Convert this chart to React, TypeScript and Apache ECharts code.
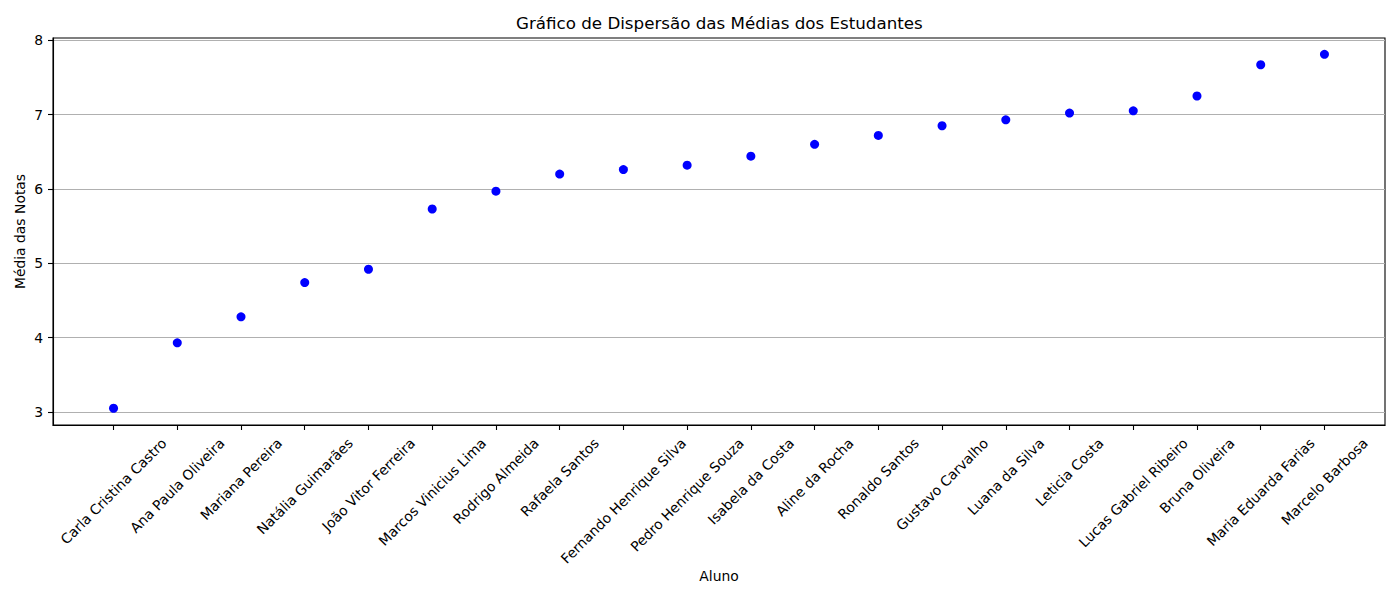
import React, { useEffect, useRef } from "react";
import * as echarts from "echarts";

const alunos = [
  "Carla Cristina Castro",
  "Ana Paula Oliveira",
  "Mariana Pereira",
  "Natália Guimarães",
  "João Vitor Ferreira",
  "Marcos Vinicius Lima",
  "Rodrigo Almeida",
  "Rafaela Santos",
  "Fernando Henrique Silva",
  "Pedro Henrique Souza",
  "Isabela da Costa",
  "Aline da Rocha",
  "Ronaldo Santos",
  "Gustavo Carvalho",
  "Luana da Silva",
  "Leticia Costa",
  "Lucas Gabriel Ribeiro",
  "Bruna Oliveira",
  "Maria Eduarda Farias",
  "Marcelo Barbosa",
];

const medias = [
  3.05, 3.93, 4.28, 4.74, 4.92, 5.73, 5.97, 6.2, 6.26, 6.32, 6.44, 6.6, 6.72,
  6.85, 6.93, 7.02, 7.05, 7.25, 7.67, 7.81,
];

const yTicks = [3, 4, 5, 6, 7, 8];

const TITLE = "Gráfico de Dispersão das Médias dos Estudantes";
const FONT = "'DejaVu Sans', sans-serif";
const TICK_SIZE = 13.9;
const TITLE_SIZE = 16.7;

// largura do texto, para centrar os rótulos girados como no matplotlib
const measure = (text: string, size: number) => {
  const ctx = document.createElement("canvas").getContext("2d");
  if (!ctx) return text.length * size * 0.6;
  ctx.font = `${size}px ${FONT}`;
  return ctx.measureText(text).width;
};

const App = () => {
  const chartRef = useRef<HTMLDivElement>(null);

  useEffect(() => {
    if (!chartRef.current) return;
    const chart = echarts.init(chartRef.current, null, { renderer: "svg" });

    const idx = alunos.map((_, i) => i);
    const rich: Record<string, any> = {};
    alunos.forEach((nome, i) => {
      const pad = 0.5 * (measure(nome, TICK_SIZE) + 16);
      rich["s" + i] = {
        fontFamily: FONT,
        fontSize: TICK_SIZE,
        color: "#000",
        padding: [pad, pad, 0, 0],
      };
    });

    const axisLine = { show: true, onZero: false, lineStyle: { color: "#000", width: 1.1 } };
    const tickLine = { color: "#000", width: 1.1 };
    const labelStyle = { fontFamily: FONT, fontSize: TICK_SIZE, color: "#000" };

    // centro do título sobre a área do gráfico (53..1385)
    const titleLeft = Math.round(719 - measure(TITLE, TITLE_SIZE) / 2);

    chart.setOption({
      animation: false,
      title: {
        text: TITLE,
        left: titleLeft,
        top: 14,
        padding: 0,
        textStyle: { fontFamily: FONT, fontSize: TITLE_SIZE, fontWeight: "normal", color: "#000" },
      },
      grid: {
        left: 53,
        right: 15,
        top: 38,
        bottom: 175,
        show: true,
        borderColor: "#000",
        borderWidth: 1.1,
      },
      xAxis: {
        type: "value",
        min: -0.95,
        max: alunos.length - 1 + 0.95,
        name: "Aluno",
        nameLocation: "middle",
        nameGap: 144,
        nameMoveOverlap: false,
        nameTextStyle: labelStyle,
        axisLine,
        axisTick: { show: true, length: 5, customValues: idx, lineStyle: tickLine },
        axisLabel: {
          customValues: idx,
          rotate: 45,
          align: "center",
          verticalAlign: "middle",
          margin: 10,
          ...labelStyle,
          formatter: (v: number) => `{s${v}|${alunos[v]}}`,
          rich,
        },
        splitLine: { show: false },
      },
      yAxis: {
        type: "value",
        min: 2.825,
        max: 8.03,
        name: "Média das Notas",
        nameLocation: "middle",
        nameGap: 26,
        nameMoveOverlap: false,
        nameTextStyle: labelStyle,
        axisLine,
        axisTick: { show: true, length: 5, customValues: yTicks, lineStyle: tickLine },
        axisLabel: { customValues: yTicks, margin: 10, ...labelStyle },
        splitLine: { show: true, lineStyle: { color: "#b0b0b0", width: 1.1 } },
      },
      series: [
        {
          type: "scatter",
          data: medias.map((m, i) => [i, m]),
          symbolSize: 9,
          itemStyle: { color: "#0000ff", opacity: 1 },
        },
      ],
    });

    return () => {
      chart.dispose();
    };
  }, []);

  return (
    <div
      ref={chartRef}
      style={{ position: "fixed", left: 0, top: 0, width: "1400px", height: "600px", background: "#fff" }}
    />
  );
};

export default App;
